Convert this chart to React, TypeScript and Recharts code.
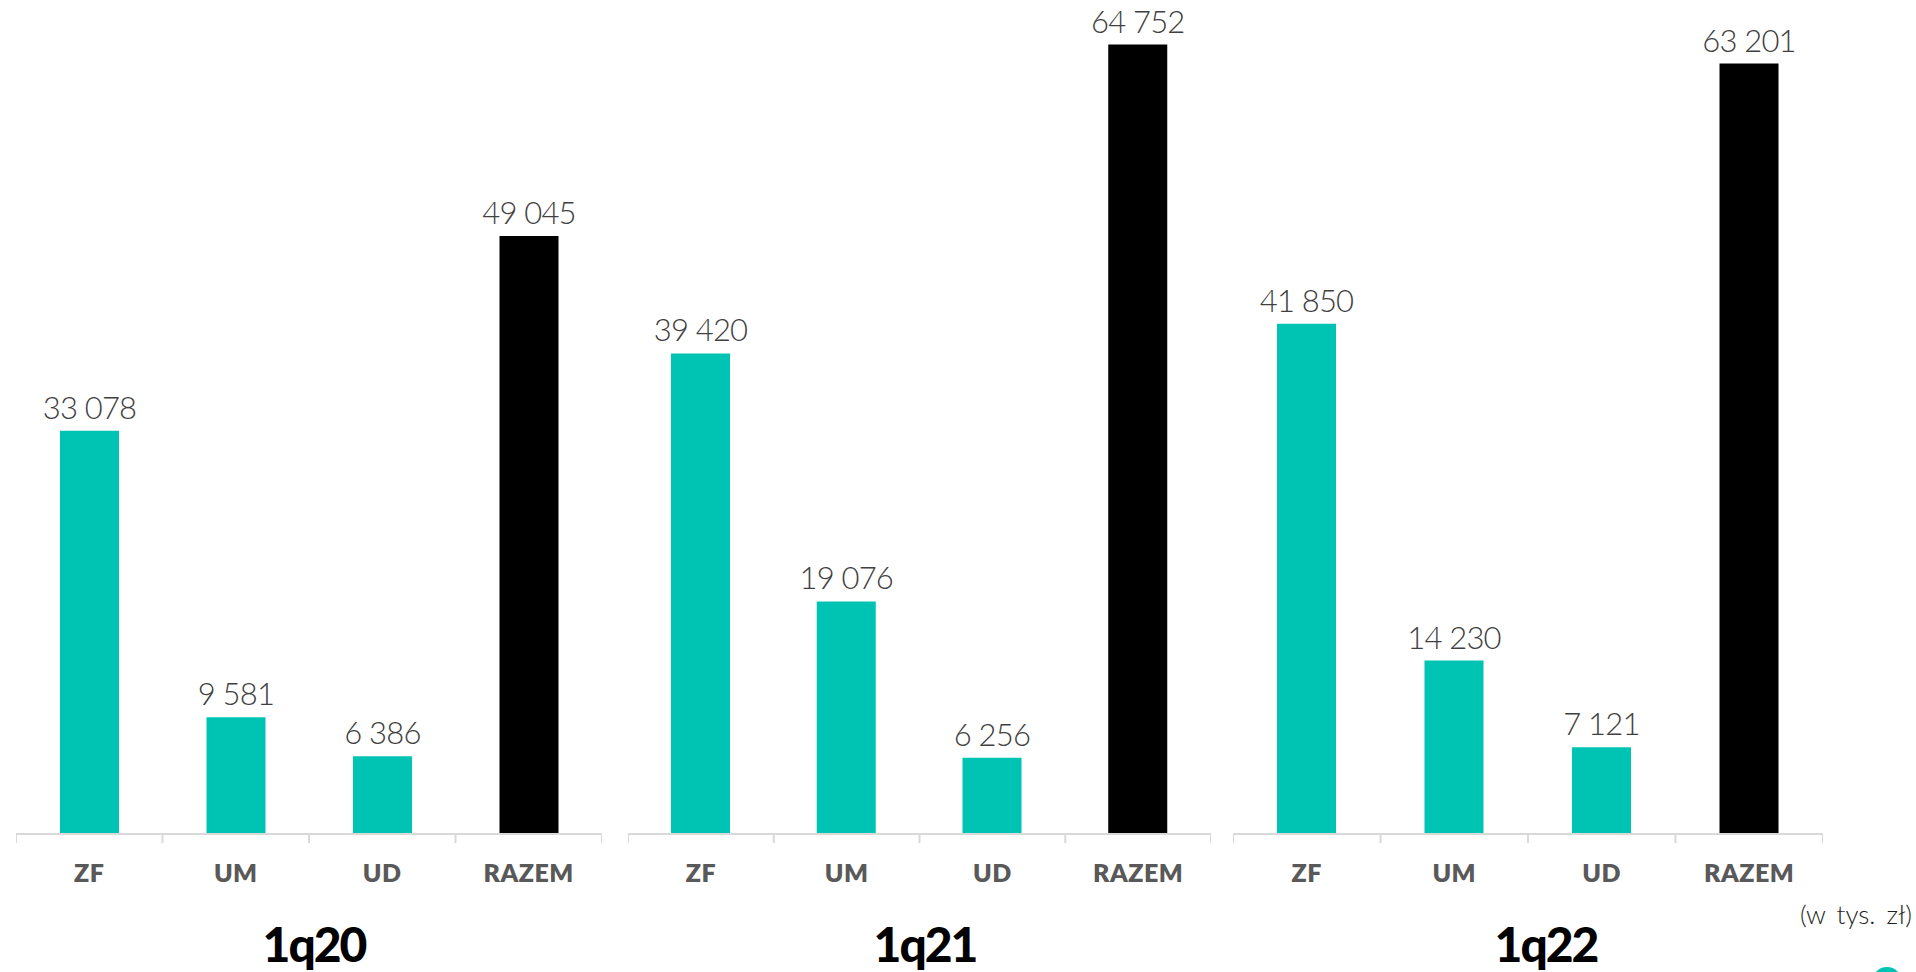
import { BarChart, Bar, XAxis, YAxis, Cell, LabelList } from "recharts";

const categories = ["ZF", "UM", "UD", "RAZEM"];
const quarters = ["1q20", "1q21", "1q22"];
const values1q20 = [33078, 9581, 6386, 49045];
const values1q21 = [39420, 19076, 6256, 64752];
const values1q22 = [41850, 14230, 7121, 63201];
const unitNote = "(w tys. zł)";

const TEAL = "#00c4b3";
const panels = [
  { left: 16, width: 586, titleX: 314, values: values1q20 },
  { left: 628, width: 583, titleX: 925, values: values1q21 },
  { left: 1233, width: 590, titleX: 1546, values: values1q22 },
];

const fmt = (v: number) => String(v).replace(/\B(?=(\d{3})+(?!\d))/g, " ");

function makeTick(width: number) {
  const band = width / categories.length;
  return (props: any) => {
    const { x, y, payload, index } = props;
    return (
      <g>
        <line x1={x - band / 2} x2={x - band / 2} y1={y} y2={y + 9} stroke="#d9d9d9" strokeWidth={2} />
        {index === categories.length - 1 && (
          <line x1={x + band / 2} x2={x + band / 2} y1={y} y2={y + 9} stroke="#d9d9d9" strokeWidth={2} />
        )}
        <text
          x={x}
          y={y + 38}
          textAnchor="middle"
          dominantBaseline="central"
          fill="#595959"
          fontSize={25}
          fontWeight={800}
          letterSpacing={0.5}
        >
          {payload.value}
        </text>
      </g>
    );
  };
}

function Panel({ left, width, values }: { left: number; width: number; values: number[] }) {
  const data = categories.map((c, i) => ({ name: c, value: values[i] }));
  return (
    <div style={{ position: "absolute", left, top: 0 }}>
      <BarChart width={width} height={896} data={data} margin={{ top: 5, right: 0, bottom: 0, left: 0 }}>
        <XAxis
          dataKey="name"
          height={62}
          axisLine={{ stroke: "#d9d9d9", strokeWidth: 2 }}
          tickLine={false}
          tickSize={0}
          tickMargin={0}
          interval={0}
          tick={makeTick(width)}
        />
        <YAxis hide domain={[0, 68000]} />
        <Bar dataKey="value" barSize={59} isAnimationActive={false}>
          {data.map((d, i) => (
            <Cell key={d.name} fill={i === categories.length - 1 ? "#000000" : TEAL} />
          ))}
          <LabelList
            dataKey="value"
            position="top"
            offset={12}
            formatter={(v: any) => fmt(Number(v))}
            fill="#404040"
            fontSize={31}
            fontWeight={300}
            letterSpacing={-0.8}
          />
        </Bar>
      </BarChart>
    </div>
  );
}

export default function App() {
  return (
    <div
      style={{
        position: "absolute",
        left: 0,
        top: 0,
        width: 1916,
        height: 972,
        overflow: "hidden",
        background: "#fff",
        fontFamily: "Lato, 'Open Sans', sans-serif",
      }}
    >
      {panels.map((p) => (
        <Panel key={p.left} left={p.left} width={p.width} values={p.values} />
      ))}
      {panels.map((p, i) => (
        <div
          key={quarters[i]}
          style={{
            position: "absolute",
            left: p.titleX - 100,
            width: 200,
            top: 914,
            textAlign: "center",
            fontSize: 48,
            fontWeight: 900,
            letterSpacing: -2,
            color: "#000",
            lineHeight: "60px",
          }}
        >
          {quarters[i]}
        </div>
      ))}
      <div
        style={{
          position: "absolute",
          left: 1770,
          top: 898,
          width: 142,
          textAlign: "right",
          fontSize: 26,
          fontWeight: 300,
          color: "#1f1f1f",
          lineHeight: "32px",
          wordSpacing: 4,
        }}
      >
        {unitNote}
      </div>
      <div
        style={{
          position: "absolute",
          left: 1872,
          top: 967,
          width: 30,
          height: 30,
          borderRadius: "50%",
          background: TEAL,
        }}
      />
    </div>
  );
}
